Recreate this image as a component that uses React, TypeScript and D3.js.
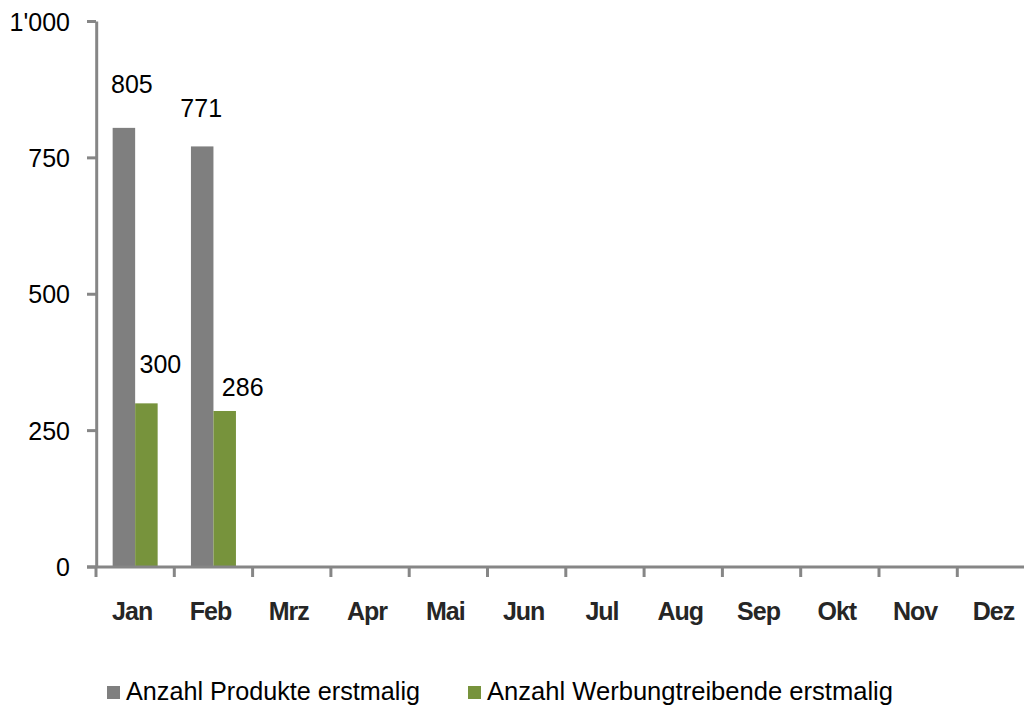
import React from "react";
import * as d3 from "d3";

const months = ["Jan", "Feb", "Mrz", "Apr", "Mai", "Jun", "Jul", "Aug", "Sep", "Okt", "Nov", "Dez"];
const seriesNames = ["Anzahl Produkte erstmalig", "Anzahl Werbungtreibende erstmalig"];
const produkte: (number | null)[] = [805, 771, null, null, null, null, null, null, null, null, null, null];
const werbung: (number | null)[] = [300, 286, null, null, null, null, null, null, null, null, null, null];
const yTicks = [0, 250, 500, 750, 1000];
const yTickLabels = ["0", "250", "500", "750", "1'000"];
const colors = ["#7f7f7f", "#77933c"];
// manual data label nudges (dx from bar centre, dy of baseline from bar top), as placed in the original
const labelNudges = [
  [[8, -35], [-1, -29]],
  [[14, -30], [18, -15]],
];

const W = 1024;
const H = 707;
const axisColor = "#868686";
const font = "'Liberation Sans', Arial, sans-serif";

export default function App() {
  const x0 = 96;
  const step = 78.3;
  const x = d3.scaleBand<string>().domain(months).range([x0, x0 + step * months.length]).paddingInner(0).paddingOuter(0);
  const xi = d3.scaleBand<string>().domain(seriesNames).range([0, x.bandwidth()]).paddingInner(0).paddingOuter(0.74);
  const y = d3.scaleLinear().domain([0, 1000]).range([567, 21.5]);
  const series = [produkte, werbung];

  const legendTextLens = [294, 406];
  const legendStarts = [107, 468];

  return (
    <svg width={W} height={H} style={{ position: "absolute", left: 0, top: 0, background: "#fff" }} fontFamily={font}>
      <rect x={0} y={0} width={W} height={H} fill="#fff" />
      {/* bars */}
      {series.map((vals, si) =>
        vals.map((v, mi) =>
          v == null ? null : (
            <rect
              key={`b${si}-${mi}`}
              x={(x(months[mi]) as number) + (xi(seriesNames[si]) as number)}
              y={y(v)}
              width={xi.bandwidth()}
              height={y(0) - y(v)}
              fill={colors[si]}
            />
          )
        )
      )}
      {/* y axis */}
      <line x1={x0 + 0.7} x2={x0 + 0.7} y1={y(1000)} y2={y(0)} stroke={axisColor} strokeWidth={3} />
      {yTicks.map((t, i) => (
        <g key={`yt${i}`}>
          <line x1={87} x2={x0} y1={y(t)} y2={y(t)} stroke={axisColor} strokeWidth={3} />
          <text x={70} y={y(t)} dy="0.36em" textAnchor="end" fontSize={25} fill="#000">
            {yTickLabels[i]}
          </text>
        </g>
      ))}
      {/* x axis */}
      <line x1={87} x2={W} y1={y(0)} y2={y(0)} stroke={axisColor} strokeWidth={3} />
      {months.map((m) => (
        <line key={`xt${m}`} x1={x(m)} x2={x(m)} y1={y(0)} y2={y(0) + 10} stroke={axisColor} strokeWidth={3} />
      ))}
      {months.map((m) => (
        <text
          key={`xl${m}`}
          x={(x(m) as number) + x.bandwidth() / 2 - 3}
          y={620}
          textAnchor="middle"
          fontSize={25}
          fontWeight="bold"
          letterSpacing={-1}
          fill="#262626"
        >
          {m}
        </text>
      ))}
      {/* data labels */}
      {series.map((vals, si) =>
        vals.map((v, mi) => {
          if (v == null) return null;
          const cx = (x(months[mi]) as number) + (xi(seriesNames[si]) as number) + xi.bandwidth() / 2;
          const [dx, dy] = labelNudges[si][mi];
          return (
            <text key={`dl${si}-${mi}`} x={cx + dx} y={y(v) + dy} textAnchor="middle" fontSize={25} fill="#000">
              {v}
            </text>
          );
        })
      )}
      {/* legend */}
      {seriesNames.map((n, i) => (
        <g key={`lg${i}`}>
          <rect x={legendStarts[i]} y={686} width={13} height={13} fill={colors[i]} />
          <text
            x={legendStarts[i] + 19}
            y={700}
            fontSize={26}
            fill="#000"
            textLength={legendTextLens[i]}
            lengthAdjust="spacingAndGlyphs"
          >
            {n}
          </text>
        </g>
      ))}
    </svg>
  );
}
